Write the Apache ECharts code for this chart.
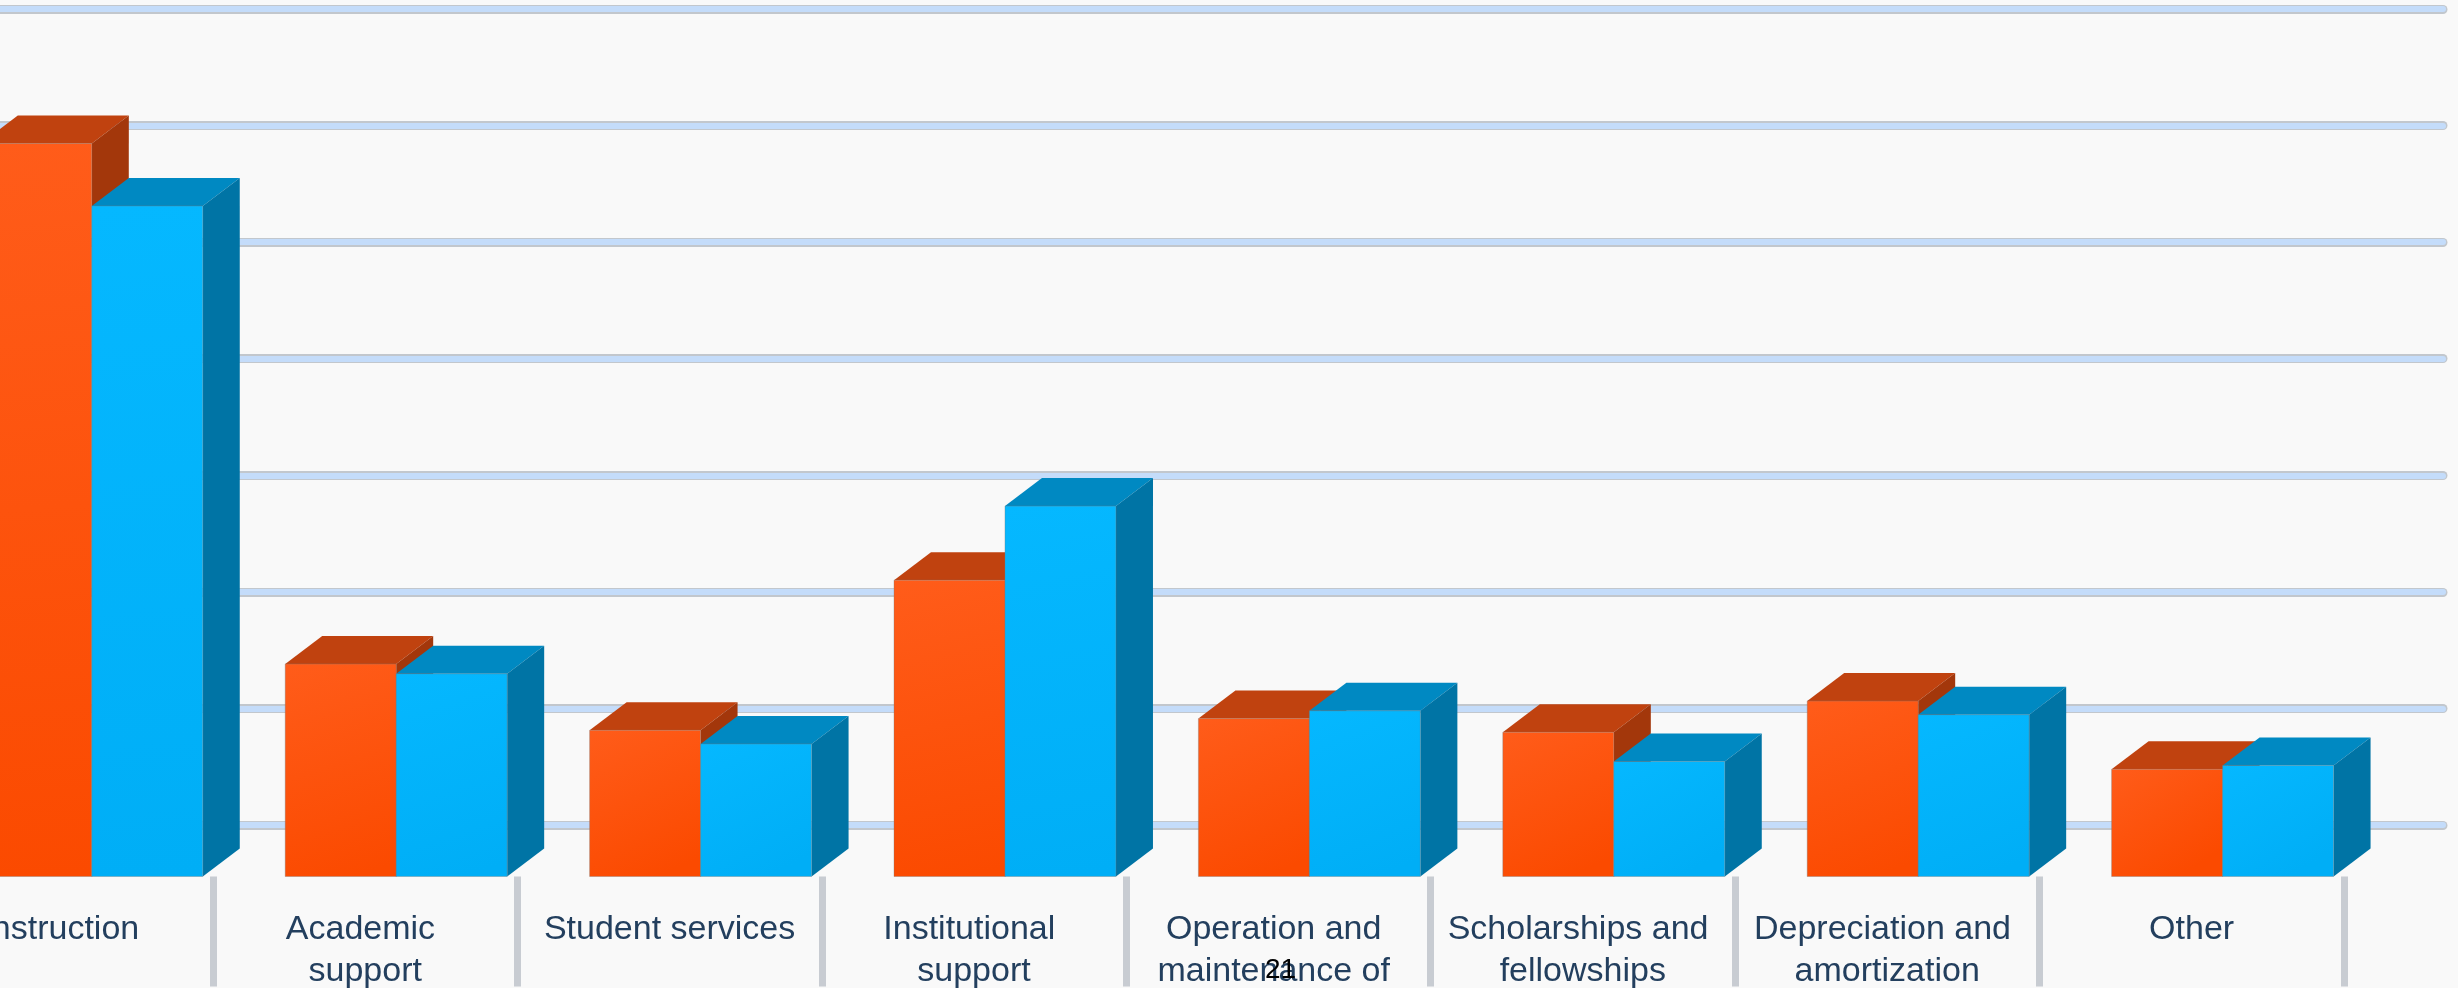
<!DOCTYPE html>
<html>
<head>
<meta charset="utf-8">
<script src="https://cdn.jsdelivr.net/npm/echarts@6/dist/echarts.min.js"></script>
<style>
  html, body { margin: 0; padding: 0; background: #f9f9f9; }
  #chart { width: 2458px; height: 988px; }
</style>
</head>
<body>
<div id="chart"></div>
<script>
const categories = [
  "Instruction",
  "Academic support",
  "Student services",
  "Institutional support",
  "Operation and maintenance of plant",
  "Scholarships and fellowships",
  "Depreciation and amortization",
  "Other",
];
const seriesOrange = [37.6, 10.9, 7.5, 15.2, 8.1, 7.4, 9.0, 5.5];
const seriesBlue = [34.4, 10.4, 6.8, 19.0, 8.5, 5.9, 8.3, 5.7];
const gridLineSteps = 7;

// 3d look
const DEPTH_X = 37;
const DEPTH_Y = 28;
const BAR_RATIO = 0.3646;
const START_RATIO = -0.2628;

const palette = [
  { front: ["#ff5c1a", "#fb4a00"], top: "#c0420f", side: "#a3370b" },
  { front: ["#05b8ff", "#00aef6"], top: "#0089c2", side: "#0074a5" },
];

const makeRender = (slot) => (params, api) => {
  const i = api.value(0);
  const base = api.coord([i, 0]);
  const top = api.coord([i, api.value(1)]);
  const band = api.size([1, 0])[0];
  const w = band * BAR_RATIO;
  const x0 = base[0] + band * START_RATIO + w * slot;
  const x1 = x0 + w;
  const yT = top[1];
  const yB = base[1];
  const c = palette[slot];
  return {
    type: "group",
    children: [
      {
        type: "polygon",
        shape: { points: [[x0, yT], [x1, yT], [x1 + DEPTH_X, yT - DEPTH_Y], [x0 + DEPTH_X, yT - DEPTH_Y]] },
        style: { fill: c.top },
      },
      {
        type: "polygon",
        shape: { points: [[x1, yT], [x1 + DEPTH_X, yT - DEPTH_Y], [x1 + DEPTH_X, yB - DEPTH_Y], [x1, yB]] },
        style: { fill: c.side },
      },
      {
        type: "rect",
        shape: { x: x0, y: yT, width: w, height: yB - yT },
        style: {
          fill: {
            type: "linear", x: 0, y: 0, x2: 0.6, y2: 1,
            colorStops: [
              { offset: 0, color: c.front[0] },
              { offset: 1, color: c.front[1] },
            ],
          },
          stroke: "rgba(120,120,120,0.35)",
          lineWidth: 1,
        },
      },
    ],
  };
};

const chart = echarts.init(document.getElementById("chart"));
chart.setOption({
  backgroundColor: "#f9f9f9",
  animation: false,
  grid: [
    // bars
    { left: -91.4, width: 2435.2, top: 9, height: 867.5, outerBoundsMode: "none", containLabel: false },
    // back wall gridlines
    { left: -54, width: 2497, top: 9, height: 816, outerBoundsMode: "none", containLabel: false },
  ],
  xAxis: [
    {
      gridIndex: 0,
      type: "category",
      data: categories,
      offset: 18,
      axisLine: { show: false },
      axisTick: { show: true, length: 110, lineStyle: { color: "#c8ccd2", width: 7 } },
      axisLabel: {
        interval: 0,
        margin: 14,
        width: 272,
        overflow: "break",
        fontFamily: "Liberation Sans",
        fontSize: 34,
        lineHeight: 42,
        color: "#233f5e",
      },
    },
    {
      gridIndex: 0,
      type: "category",
      data: categories,
      offset: 18,
      axisLine: { show: false },
      axisTick: { show: true, length: 110, lineStyle: { color: "#c6ddf8", width: 5 } },
      axisLabel: { show: false },
    },
    { gridIndex: 1, type: "value", min: 0, max: 1, show: false },
  ],
  yAxis: [
    { gridIndex: 0, type: "value", min: 0, max: 44.5, show: false },
    {
      gridIndex: 1,
      type: "value",
      min: 0,
      max: gridLineSteps,
      interval: 1,
      axisLine: { show: false },
      axisTick: { show: false },
      axisLabel: { show: false },
      splitLine: { show: true, lineStyle: { color: "#c2c7cd", width: 9, cap: "round" } },
    },
    {
      gridIndex: 1,
      type: "value",
      min: 0,
      max: gridLineSteps,
      interval: 1,
      axisLine: { show: false },
      axisTick: { show: false },
      axisLabel: { show: false },
      splitLine: { show: true, lineStyle: { color: "#c4dcfa", width: 6, cap: "round" } },
    },
  ],
  series: [
    {
      name: "Series 1",
      type: "custom",
      xAxisIndex: 0,
      yAxisIndex: 0,
      clip: false,
      encode: { x: 0, y: 1 },
      renderItem: makeRender(0),
      data: seriesOrange.map((v, i) => [i, v]),
      z: 3,
    },
    {
      name: "Series 2",
      type: "custom",
      xAxisIndex: 0,
      yAxisIndex: 0,
      clip: false,
      encode: { x: 0, y: 1 },
      renderItem: makeRender(1),
      data: seriesBlue.map((v, i) => [i, v]),
      z: 4,
    },
  ],
  graphic: [
    {
      type: "text",
      left: 1265,
      top: 956,
      z: 100,
      style: { text: "21", fontFamily: "Liberation Sans", fontSize: 28, fill: "#000" },
    },
  ],
});
</script>
</body>
</html>
